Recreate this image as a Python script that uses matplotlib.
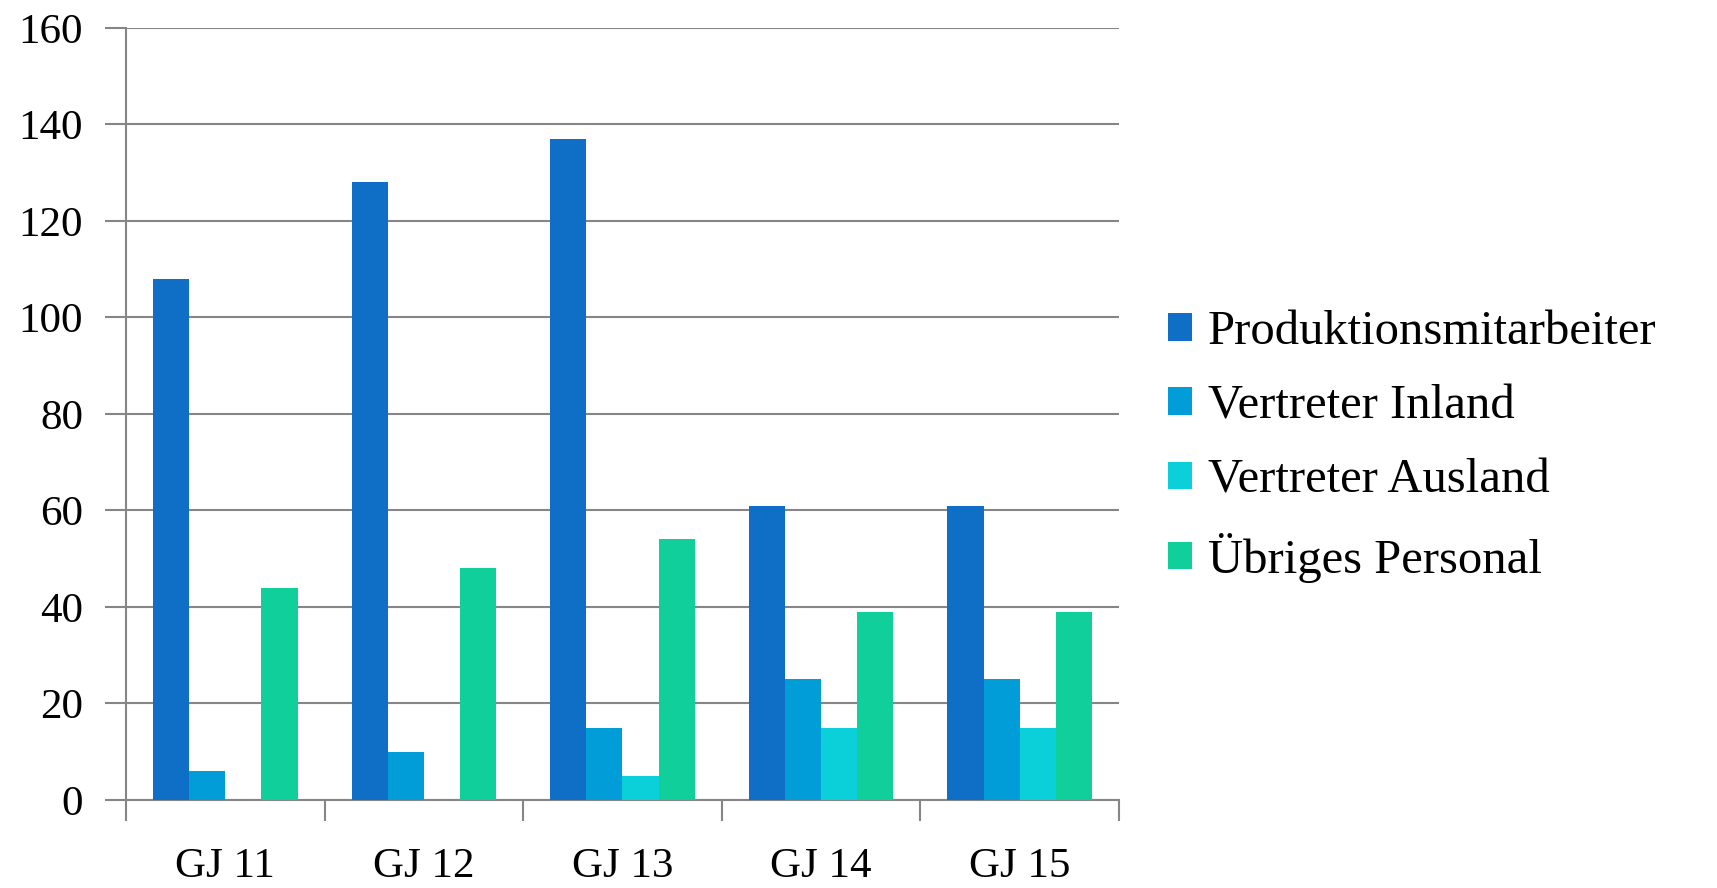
import numpy as np
import matplotlib
matplotlib.use("Agg")
from matplotlib import pyplot as plt
from matplotlib.patches import Patch

# data
categories = ["GJ 11", "GJ 12", "GJ 13", "GJ 14", "GJ 15"]
series_names = ["Produktionsmitarbeiter", "Vertreter Inland", "Vertreter Ausland", "Übriges Personal"]
produktion = [108, 128, 137, 61, 61]
inland = [6, 10, 15, 25, 25]
ausland = [0, 0, 5, 15, 15]
uebriges = [44, 48, 54, 39, 39]
colors = ["#0F6FC6", "#009DD9", "#0BD0D9", "#10CF9B"]

plt.rcParams['font.family'] = ['Liberation Serif', 'DejaVu Serif']

fig = plt.figure(figsize=(17.17, 8.88), dpi=100)
ax = fig.add_axes([0.0734, 0.0991, 0.5783, 0.8694])

x = np.arange(len(categories))
w = 0.182
values = [produktion, inland, ausland, uebriges]
for i, (vals, c) in enumerate(zip(values, colors)):
    ax.bar(x + (i - 1.5) * w, vals, width=w, color=c, zorder=3)

ax.set_xlim(-0.5, 4.5)
ax.set_ylim(0, 160)
ax.set_yticks(range(0, 161, 20))
ax.tick_params(axis='y', labelsize=31, length=15, width=1.5, color="#868686", pad=16)
ax.set_xticks(x)
ax.set_xticklabels(categories)
ax.tick_params(axis='x', which='major', labelsize=31, length=0, pad=34)
ax.set_xticks(np.arange(-0.5, 5, 1), minor=True)
ax.tick_params(axis='x', which='minor', length=15, width=1.5, color="#868686")

ax.grid(axis='y', color="#868686", linewidth=1.5, zorder=0)
for s in ["top", "right"]:
    ax.spines[s].set_visible(False)
for s in ["left", "bottom"]:
    ax.spines[s].set_color("#868686")
    ax.spines[s].set_linewidth(1.5)

handles = [Patch(facecolor=c, label=n) for c, n in zip(colors, series_names)]
fig.legend(handles=handles, loc="center left", bbox_to_anchor=(0.6546, 0.497),
           frameon=False, fontsize=35, handlelength=0.5, handleheight=0.5,
           handletextpad=0.33, labelspacing=0.62)

fig.savefig("out.png", dpi=100)
